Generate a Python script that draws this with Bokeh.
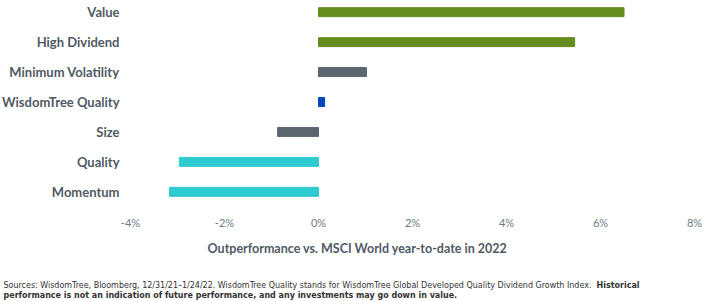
from bokeh.plotting import figure
from bokeh.layouts import column
from bokeh.models import FactorRange, Range1d, Label, FixedTicker, CustomJSTickFormatter
from bokeh.core.properties import value
from bokeh.embed import file_html
from bokeh.resources import INLINE

categories = ["Value", "High Dividend", "Minimum Volatility", "WisdomTree Quality", "Size", "Quality", "Momentum"]
values = [6.5, 5.45, 1.02, 0.13, -0.87, -2.96, -3.17]
colors = ["#668c1e", "#668c1e", "#5b6670", "#0047bb", "#5b6670", "#2ecbd1", "#2ecbd1"]
x_ticks = [-4, -2, 0, 2, 4, 6, 8]
axis_title = "Outperformance vs. MSCI World year-to-date in 2022"
note1 = "Sources: WisdomTree, Bloomberg, 12/31/21\u20131/24/22. WisdomTree Quality stands for WisdomTree Global Developed Quality Dividend Growth Index."
note1b = "Historical"
note2 = "performance is not an indication of future performance, and any investments may go down in value."

W = 716
H1 = 232
PLOT_L, PLOT_R = 130, 694          # pixel span of the value axis (-4% .. 8%)
ppu = (PLOT_R - PLOT_L) / (x_ticks[-1] - x_ticks[0])
xr = Range1d(x_ticks[0] - PLOT_L / ppu, x_ticks[-1] + (W - PLOT_R) / ppu)

factors = list(reversed(categories))
p = figure(width=W, height=H1, output_backend="svg", toolbar_location=None,
           y_range=FactorRange(*factors, range_padding=-0.11, range_padding_units="absolute"),
           x_range=xr, y_axis_location=None,
           min_border_left=0, min_border_right=0, min_border_top=0, min_border_bottom=29)
p.outline_line_color = None
p.hbar(y=categories, left=0, right=values, height=0.3, color=colors)
# category labels (left of the value axis)
p.text(x=[x_ticks[0]] * len(categories), y=categories, text=categories, x_offset=-11,
       text_font=value("Lato"), text_font_style="bold", text_font_size="13px",
       text_color="#4f5a64", text_align="right", text_baseline="middle")

p.xgrid.visible = False
p.ygrid.visible = False
p.xaxis.ticker = FixedTicker(ticks=x_ticks)
p.xaxis.formatter = CustomJSTickFormatter(code="return tick + '%';")
p.xaxis.axis_line_color = None
p.xaxis.major_tick_line_color = None
p.xaxis.minor_tick_line_color = None
p.xaxis.major_label_text_font = "Lato"
p.xaxis.major_label_text_font_size = "11px"
p.xaxis.major_label_text_color = "#6c7a88"
p.xaxis.major_label_standoff = 6

# text panel below the chart
H2 = 301 - H1
t = figure(width=W, height=H2, output_backend="svg", toolbar_location=None,
           x_range=Range1d(0, W), y_range=Range1d(0, H2),
           x_axis_location=None, y_axis_location=None,
           min_border=0, min_border_left=0, min_border_right=0, min_border_top=0, min_border_bottom=0)
t.grid.visible = False
t.outline_line_color = None

def lab(x, y, text, bold=False, font="Lato", size="12px", color="#4f5a64", align="left"):
    t.add_layout(Label(x=x, y=301 - y, x_units="screen", y_units="screen", text=text,
                       text_font=font, text_font_style="bold" if bold else "normal",
                       text_font_size=size, text_color=color, text_align=align,
                       text_baseline="middle"))

lab(357, 248, axis_title, bold=True, size="12.5px", align="center")
lab(3, 284, note1, font="DejaVu Sans Condensed", size="8.9px", color="#333333")
lab(596, 284, note1b, bold=True, font="DejaVu Sans Condensed", size="8.9px", color="#333333")
lab(3, 294, note2, bold=True, font="DejaVu Sans Condensed", size="8.9px", color="#333333")

layout = column(p, t, spacing=0)
open("out.html", "w").write(file_html(layout, INLINE))
